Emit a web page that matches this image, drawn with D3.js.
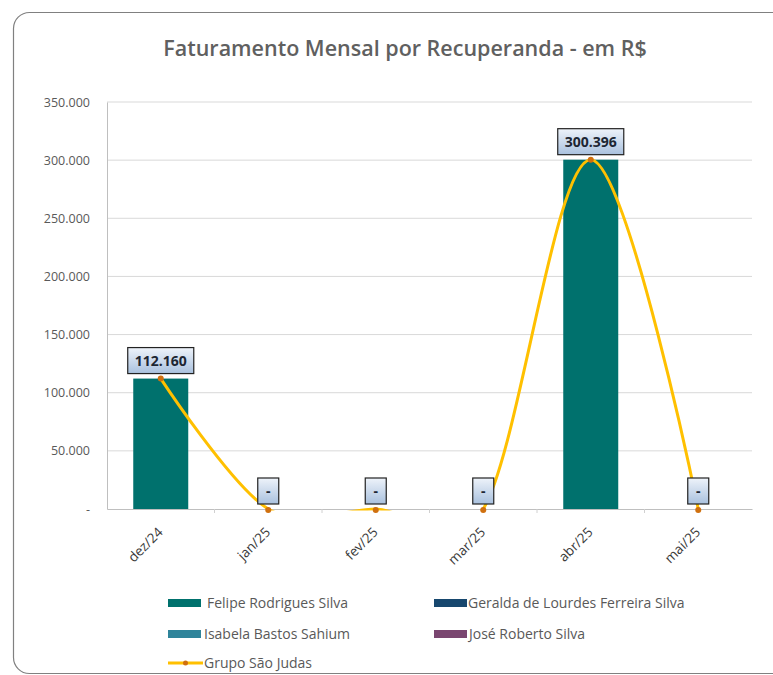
<!DOCTYPE html>
<html>
<head>
<meta charset="utf-8">
<script src="https://cdn.jsdelivr.net/npm/d3@7"></script>
<style>
  body { margin: 0; background: #fff; }
  svg { display: block; font-family: "Open Sans", sans-serif; }
</style>
</head>
<body>
<div id="chart"></div>
<script>
const categories = ["dez/24", "jan/25", "fev/25", "mar/25", "abr/25", "mai/25"];
const felipe  = [112160, 0, 0, 0, 300396, 0];
const geralda = [0, 0, 0, 0, 0, 0];
const isabela = [0, 0, 0, 0, 0, 0];
const jose    = [0, 0, 0, 0, 0, 0];
const grupo   = [112160, 0, 0, 0, 300396, 0];
const yTicks  = [0, 50000, 100000, 150000, 200000, 250000, 300000, 350000];

const barSeries = [
    { name: "Felipe Rodrigues Silva", values: felipe, color: "#00716d" },
    { name: "Geralda de Lourdes Ferreira Silva", values: geralda, color: "#17476e" },
    { name: "Isabela Bastos Sahium", values: isabela, color: "#2f849a" },
    { name: "José Roberto Silva", values: jose, color: "#7a4670" }
];
const lineName = "Grupo São Judas";

const W = 773, H = 675;
const plot = { left: 107, right: 752, top: 102, bottom: 509 };

const br = d3.formatLocale({ decimal: ",", thousands: ".", grouping: [3], currency: ["R$", ""] });
const fmt = v => v === 0 ? "-" : br.format(",.0f")(v);

let svg = d3.select("#chart").append("svg")
    .attr("width", W)
    .attr("height", H);

let defs = svg.append("defs");
let grad = defs.append("linearGradient")
    .attr("id", "lblgrad").attr("x1", 0).attr("y1", 0).attr("x2", 0).attr("y2", 1);
grad.append("stop").attr("offset", "0%").attr("stop-color", "#eef3fa");
grad.append("stop").attr("offset", "100%").attr("stop-color", "#a9c1de");

defs.append("clipPath").attr("id", "plotclip")
    .append("rect")
    .attr("x", plot.left)
    .attr("y", plot.top)
    .attr("width", plot.right - plot.left)
    .attr("height", plot.bottom - plot.top + 1.5);

// outer frame
svg.append("rect")
    .attr("x", 13.5).attr("y", 12.5)
    .attr("width", 800).attr("height", 661)
    .attr("rx", 16)
    .attr("fill", "#fff")
    .attr("stroke", "#808080")
    .attr("stroke-width", 1.2);

// title
svg.append("text")
    .attr("x", 405).attr("y", 56)
    .attr("text-anchor", "middle")
    .attr("font-size", 21.5)
    .attr("font-weight", 600)
    .attr("fill", "#606060")
    .text("Faturamento Mensal por Recuperanda - em R$");

let x = d3.scaleBand()
    .domain(categories)
    .range([plot.left, plot.right]);

let y = d3.scaleLinear()
    .domain([0, 350000])
    .range([plot.bottom, plot.top]);

// gridlines
svg.append("g")
    .selectAll("line")
    .data(yTicks.filter(d => d > 0))
    .enter().append("line")
    .attr("x1", plot.left).attr("x2", plot.right)
    .attr("y1", d => y(d)).attr("y2", d => y(d))
    .attr("stroke", "#d9d9d9")
    .attr("stroke-width", 1);

// y axis
let yAxis = svg.append("g")
    .attr("transform", "translate(" + plot.left + ",0)")
    .call(d3.axisLeft(y).tickValues(yTicks).tickFormat(fmt).tickSize(0).tickPadding(17));
yAxis.select(".domain").attr("stroke", "#bfbfbf");
yAxis.selectAll("text")
    .attr("font-family", "Open Sans, sans-serif")
    .attr("font-size", 12.5)
    .attr("fill", "#595959");

// stacked bars
let rows = categories.map((c, i) => {
    let r = { cat: c };
    barSeries.forEach(s => { r[s.name] = s.values[i]; });
    return r;
});
let stacked = d3.stack().keys(barSeries.map(s => s.name))(rows);
const barW = 55;

svg.append("g")
    .selectAll("g")
    .data(stacked)
    .enter().append("g")
    .attr("fill", (d, i) => barSeries[i].color)
    .selectAll("rect")
    .data(d => d)
    .enter().append("rect")
    .attr("x", d => x(d.data.cat) + x.bandwidth() / 2 - barW / 2)
    .attr("y", d => y(d[1]))
    .attr("width", barW)
    .attr("height", d => y(d[0]) - y(d[1]));

// x axis
let xAxis = svg.append("g")
    .attr("transform", "translate(0," + plot.bottom + ")")
    .call(d3.axisBottom(x).tickSize(0).tickPadding(0));
xAxis.select(".domain").attr("stroke", "#bfbfbf");
xAxis.selectAll("text")
    .attr("font-family", "Open Sans, sans-serif")
    .attr("font-size", 13.5)
    .attr("fill", "#3a3a3a")
    .attr("text-anchor", "end")
    .attr("dy", 0)
    .attr("transform", "translate(3,24)rotate(-45)");
// small tick marks between categories
svg.append("g")
    .selectAll("line")
    .data(categories.slice(1))
    .enter().append("line")
    .attr("x1", d => x(d)).attr("x2", d => x(d))
    .attr("y1", plot.bottom).attr("y2", plot.bottom + 4)
    .attr("stroke", "#d0d0d0");

// smoothed line, clipped to the plot area like the original
let line = d3.line()
    .x((d, i) => x(categories[i]) + x.bandwidth() / 2)
    .y(d => y(d))
    .curve(d3.curveCardinal.tension(0));

svg.append("path")
    .datum(grupo)
    .attr("clip-path", "url(#plotclip)")
    .attr("d", line)
    .attr("fill", "none")
    .attr("stroke", "#ffc000")
    .attr("stroke-width", 3);

svg.append("g")
    .selectAll("circle")
    .data(grupo)
    .enter().append("circle")
    .attr("cx", (d, i) => x(categories[i]) + x.bandwidth() / 2)
    .attr("cy", d => y(d) + (d === 0 ? 1 : 0))
    .attr("r", 3)
    .attr("fill", "#d0700f");

// data labels
let labels = svg.append("g")
    .selectAll("g")
    .data(grupo)
    .enter().append("g")
    .attr("transform", (d, i) => "translate(" + (x(categories[i]) + x.bandwidth() / 2) + "," + (y(d) - 5) + ")");

labels.append("text")
    .attr("text-anchor", "middle")
    .attr("y", -8)
    .attr("font-size", 14)
    .attr("font-weight", 700)
    .attr("fill", "#1c2633")
    .text(d => fmt(d));

labels.each(function () {
    let g = d3.select(this);
    let bb = g.select("text").node().getBBox();
    let w = Math.max(21, bb.width + 14);
    g.insert("rect", "text")
        .attr("x", -w / 2)
        .attr("y", -26)
        .attr("width", w)
        .attr("height", 26)
        .attr("fill", "url(#lblgrad)")
        .attr("stroke", "#222")
        .attr("stroke-width", 1.2);
});

// legend
let legendItems = [
    { s: barSeries[0], x: 168, y: 603, tx: 39 },
    { s: barSeries[1], x: 434, y: 603, tx: 34 },
    { s: barSeries[2], x: 168, y: 634, tx: 36 },
    { s: barSeries[3], x: 434, y: 634, tx: 35 }
];
let lg = svg.append("g");
let li = lg.selectAll("g.item")
    .data(legendItems)
    .enter().append("g")
    .attr("class", "item")
    .attr("transform", d => "translate(" + d.x + "," + d.y + ")");
li.append("rect")
    .attr("x", 0).attr("y", -4)
    .attr("width", 33).attr("height", 8)
    .attr("fill", d => d.s.color);
li.append("text")
    .attr("x", d => d.tx).attr("y", 5)
    .attr("font-size", 14)
    .attr("fill", "#595959")
    .text(d => d.s.name);

let ll = lg.append("g").attr("transform", "translate(168,663)");
ll.append("line")
    .attr("x1", 0).attr("x2", 35)
    .attr("stroke", "#ffc000").attr("stroke-width", 3);
ll.append("circle").attr("cx", 17.5).attr("r", 2.5).attr("fill", "#d0700f");
ll.append("text")
    .attr("x", 36).attr("y", 5)
    .attr("font-size", 14)
    .attr("fill", "#595959")
    .text(lineName);
</script>
</body>
</html>
